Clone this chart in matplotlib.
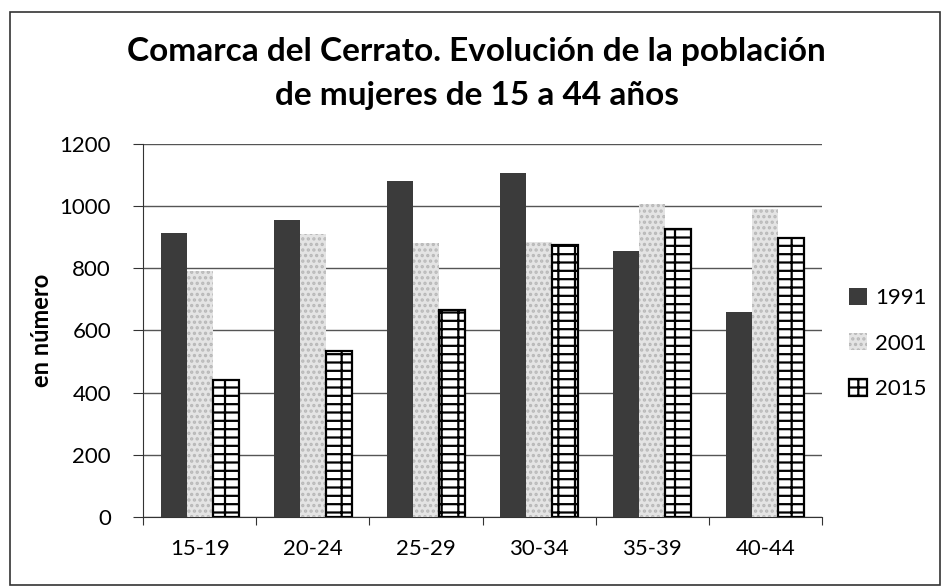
import numpy as np
import matplotlib.pyplot as plt
from matplotlib.patches import Rectangle

groups = ["15-19", "20-24", "25-29", "30-34", "35-39", "40-44"]
years = ["1991", "2001", "2015"]
v1991 = [915, 955, 1082, 1106, 856, 660]
v2001 = [792, 912, 880, 886, 1008, 990]
v2015 = [441, 535, 666, 876, 927, 897]

plt.rcParams['font.family'] = ['Lato', 'DejaVu Sans']
plt.rcParams['hatch.linewidth'] = 1.6

fig = plt.figure(figsize=(9.44, 5.87), dpi=100)
ax = fig.add_axes([0.1515, 0.1193, 0.7193, 0.6354])

x = np.arange(len(groups))
w = 0.23
styles = [
    dict(color='#3b3b3b', edgecolor='#3b3b3b', hatch='....', linewidth=0),
    dict(color='#e4e4e4', edgecolor='#b8b8b8', hatch='...', linewidth=0),
    dict(color='white', edgecolor='black', hatch='+-', linewidth=1.6),
]
for i, (vals, yr) in enumerate(zip([v1991, v2001, v2015], years)):
    ax.bar(x + (i - 1) * w, vals, w, label=yr, zorder=3, **styles[i])

ax.set_ylim(0, 1200)
ax.set_xlim(-0.5, len(groups) - 0.5)
ax.set_yticks(range(0, 1201, 200))
ax.yaxis.grid(True, color='#555555', linewidth=1.0, zorder=0)
ax.set_axisbelow(True)

ax.set_xticks(np.arange(-0.5, len(groups), 1.0))
ax.set_xticklabels([])
ax.set_xticks(x, minor=True)
ax.set_xticklabels(groups, minor=True)
ax.tick_params(axis='x', which='minor', length=0, pad=16, labelsize=16)
ax.tick_params(axis='x', which='major', length=6, direction='out', color='#333333')
ax.tick_params(axis='y', length=7, direction='out', labelsize=16, pad=16, color='#333333')

for s in ['top', 'right']:
    ax.spines[s].set_visible(False)
ax.spines['left'].set_color('#333333')
ax.spines['bottom'].set_color('#333333')

ax.set_ylabel("en número", fontsize=17, fontweight='bold', labelpad=5)

fig.text(0.505, 0.875, "Comarca del Cerrato. Evolución de la población\nde mujeres de 15 a 44 años",
         ha='center', va='center', fontsize=24, fontweight='bold', linespacing=1.6)

leg = ax.legend(loc='center left', bbox_to_anchor=(1.01, 0.465), frameon=False,
                fontsize=16, handlelength=0.8, handleheight=0.8, handletextpad=0.4,
                labelspacing=1.15)

fig.patches.append(Rectangle((0.011, 0.003), 0.985, 0.976, transform=fig.transFigure,
                             fill=False, edgecolor='#333333', linewidth=1.2))

fig.savefig("out.png", dpi=100)
